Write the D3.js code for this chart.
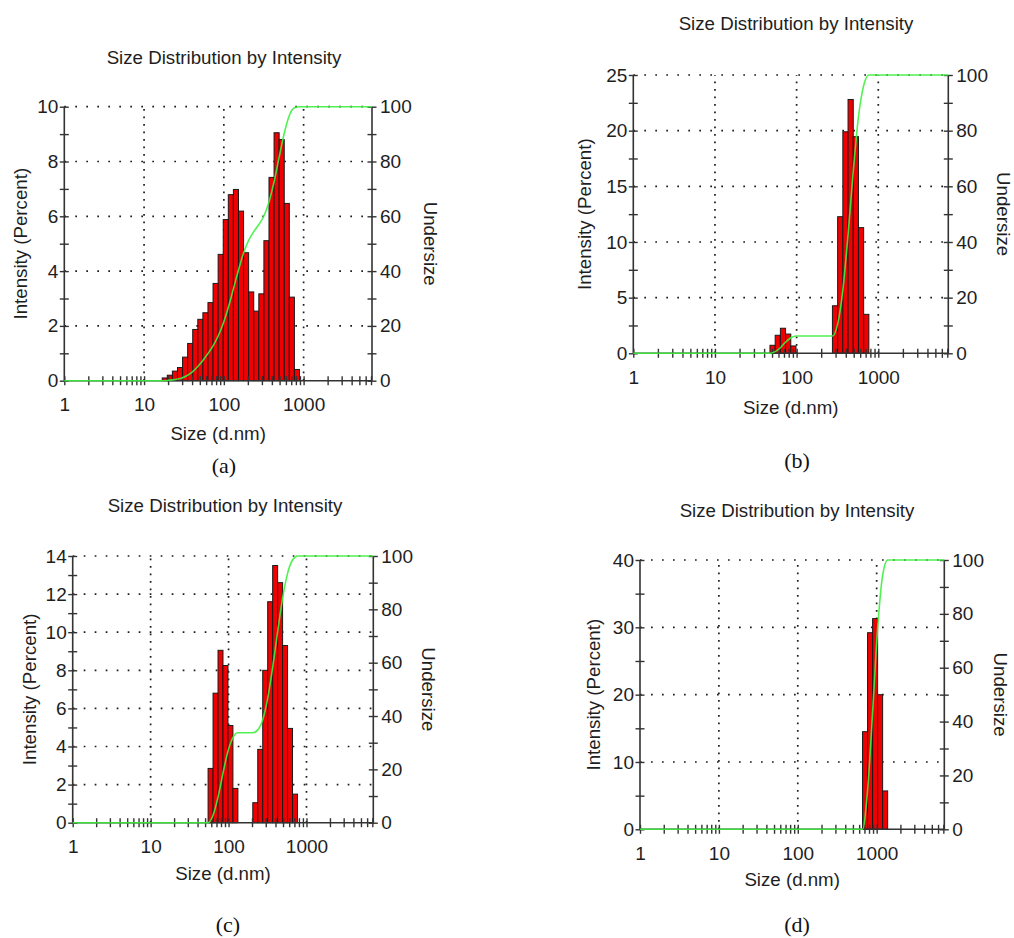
<!DOCTYPE html>
<html>
<head>
<meta charset="utf-8">
<script src="https://cdn.jsdelivr.net/npm/d3@7"></script>
<style>
  html, body { margin: 0; padding: 0; background: #fff; }
  svg { display: block; }
</style>
</head>
<body>
<svg id="fig" width="1014" height="938"></svg>
<script>
// ---- Size classes (d.nm) and intensity / undersize readings per sample ----
const sizesA = [18.17, 21.04, 24.36, 28.21, 32.67, 37.84, 43.82, 50.75, 58.77, 68.06, 78.82, 91.28, 105.7, 122.4, 141.8, 164.2, 190.1, 220.2, 255.0, 295.3, 342.0, 396.1, 458.7, 531.2, 615.1, 712.4, 825.0];
const intensityA = [0.1, 0.2, 0.35, 0.48, 0.86, 1.36, 1.87, 2.24, 2.48, 2.85, 3.55, 4.61, 5.88, 6.79, 6.98, 6.19, 4.67, 3.24, 2.54, 3.17, 5.11, 7.42, 9.05, 8.8, 6.47, 3.05, 0.41];
const undersizeA = [0.1, 0.3, 0.6, 1.1, 2.0, 3.3, 5.2, 7.4, 9.9, 12.7, 16.3, 20.9, 26.7, 33.5, 40.4, 46.6, 51.2, 54.4, 57.0, 60.1, 65.2, 72.6, 81.6, 90.3, 96.8, 99.6, 100];

const sizesB = [50.75, 58.77, 68.06, 78.82, 91.28, 105.7, 122.4, 141.8, 164.2, 190.1, 220.2, 255.0, 295.3, 342.0, 396.1, 458.7, 531.2, 615.1, 712.4];
const intensityB = [0.72, 1.62, 2.25, 1.73, 0.66, 0, 0, 0, 0, 0, 0, 0, 4.27, 12.27, 19.9, 22.8, 19.46, 11.29, 3.5];
const undersizeB = [0.6, 2.0, 4.0, 5.6, 6.2, 6.2, 6.2, 6.2, 6.2, 6.2, 6.2, 6.2, 10.5, 22.7, 42.6, 65.4, 84.9, 96.2, 100];

const sizesC = [58.77, 68.06, 78.82, 91.28, 105.7, 122.4, 141.8, 164.2, 190.1, 220.2, 255.0, 295.3, 342.0, 396.1, 458.7, 531.2, 615.1, 712.4];
const intensityC = [2.85, 6.8, 9.05, 8.25, 5.1, 1.8, 0, 0, 0, 1.05, 3.85, 8.0, 11.6, 13.5, 12.6, 9.3, 4.95, 1.5];
const undersizeC = [2.8, 9.6, 18.6, 26.8, 31.9, 33.7, 33.7, 33.7, 33.7, 34.8, 38.6, 46.6, 58.2, 71.6, 84.2, 93.5, 98.5, 100];

const sizesD = [712.4, 825.0, 955.4, 1106, 1281];
const intensityD = [14.5, 29.2, 31.3, 20.0, 5.7];
const undersizeD = [14.4, 43.4, 74.5, 94.3, 100];

// ---- Axis ticks ----
const intensityTicksA = [0, 2, 4, 6, 8, 10];
const intensityMinorA = [1, 3, 5, 7, 9];
const intensityTicksB = [0, 5, 10, 15, 20, 25];
const intensityMinorB = [2.5, 7.5, 12.5, 17.5, 22.5];
const intensityTicksC = [0, 2, 4, 6, 8, 10, 12, 14];
const intensityMinorC = [1, 3, 5, 7, 9, 11, 13];
const intensityTicksD = [0, 10, 20, 30, 40];
const intensityMinorD = [5, 15, 25, 35];
const undersizeTicks = [0, 20, 40, 60, 80, 100];
const undersizeMinor = [10, 30, 50, 70, 90];
const sizeTicks = [1, 10, 100, 1000];
const sizeMinor = [2, 3, 4, 5, 6, 7, 8, 9, 20, 30, 40, 50, 60, 70, 80, 90,
                   200, 300, 400, 500, 600, 700, 800, 900, 2000, 3000, 4000, 5000, 6000, 7000];
const sizeRange = [1, 7200];

const titleText = "Size Distribution by Intensity";
const xLabelText = "Size (d.nm)";
const yLabelText = "Intensity (Percent)";
const y2LabelText = "Undersize";
const captions = ["(a)", "(b)", "(c)", "(d)"];

// ---- Panel placement on the page ----
const layout = [
  {left: 64.3, right: 372, top: 106.7, bottom: 380.7, titleX: 224, titleY: 64,
   yLabX: 27, y2LabX: 424, xLabY: 439.5, capX: 224, capY: 473},
  {left: 633.3, right: 948.3, top: 75, bottom: 353.3, titleX: 796, titleY: 30,
   yLabX: 591, y2LabX: 997, xLabY: 413.5, capX: 797, capY: 468},
  {left: 72.7, right: 373.3, top: 556, bottom: 822.7, titleX: 225, titleY: 512,
   yLabX: 36, y2LabX: 422, xLabY: 880, capX: 228, capY: 932},
  {left: 640, right: 944.3, top: 560, bottom: 829.3, titleX: 797, titleY: 517,
   yLabX: 600, y2LabX: 993.5, xLabY: 886, capX: 797, capY: 932}
];

const panels = [
  {sizes: sizesA, intensity: intensityA, undersize: undersizeA, yMax: 10, yTicks: intensityTicksA, yMinor: intensityMinorA},
  {sizes: sizesB, intensity: intensityB, undersize: undersizeB, yMax: 25, yTicks: intensityTicksB, yMinor: intensityMinorB},
  {sizes: sizesC, intensity: intensityC, undersize: undersizeC, yMax: 14, yTicks: intensityTicksC, yMinor: intensityMinorC},
  {sizes: sizesD, intensity: intensityD, undersize: undersizeD, yMax: 40, yTicks: intensityTicksD, yMinor: intensityMinorD}
];

const SANS = "'Liberation Sans', Arial, sans-serif";
const SERIF = "'Liberation Serif', 'Times New Roman', serif";
const INK = "#1e1e1e";
const AXIS = "#333";
const TICK = 4.5;

const svg = d3.select("#fig");

function crossTicks(sel, orient) {
  // ticks straddle the axis line
  sel.selectAll(".tick line").attr("stroke", AXIS).attr("stroke-width", 1.4)
    .each(function () {
      const l = d3.select(this);
      if (orient === "h") { l.attr("x1", -TICK).attr("x2", TICK); }
      else { l.attr("y1", -TICK).attr("y2", TICK); }
    });
  sel.select(".domain").remove();
}

function drawPanel(p, L, i) {
  const g = svg.append("g");
  const x = d3.scaleLog().domain(sizeRange).range([L.left, L.right]);
  const y = d3.scaleLinear().domain([0, p.yMax]).range([L.bottom, L.top]);
  const y2 = d3.scaleLinear().domain([0, 100]).range([L.bottom, L.top]);

  // dotted grid
  g.append("g").selectAll("line").data(p.yTicks.filter(v => v > 0)).join("line")
    .attr("x1", L.left).attr("x2", L.right)
    .attr("y1", d => y(d)).attr("y2", d => y(d))
    .attr("stroke", INK).attr("stroke-width", 1.7)
    .attr("stroke-dasharray", "1.7,9.3");
  g.append("g").selectAll("line").data(sizeTicks.filter(v => v > sizeRange[0])).join("line")
    .attr("x1", d => x(d)).attr("x2", d => x(d))
    .attr("y1", L.bottom).attr("y2", L.top)
    .attr("stroke", INK).attr("stroke-width", 1.7)
    .attr("stroke-dasharray", "1.7,5.8");

  // histogram bars, one per size class
  const half = Math.sqrt(p.sizes[1] / p.sizes[0]);
  const bars = p.sizes.map((s, k) => ({s, v: p.intensity[k]})).filter(d => d.v > 0);
  g.append("g").selectAll("rect").data(bars).join("rect")
    .attr("x", d => x(d.s / half))
    .attr("width", d => x(d.s * half) - x(d.s / half))
    .attr("y", d => y(d.v))
    .attr("height", d => y(0) - y(d.v))
    .attr("fill", "#f00000")
    .attr("stroke", "#1a1a1a").attr("stroke-width", 1);

  // axis lines
  g.append("line").attr("x1", L.left).attr("x2", L.left).attr("y1", L.top).attr("y2", L.bottom)
    .attr("stroke", AXIS).attr("stroke-width", 1.6);
  g.append("line").attr("x1", L.right).attr("x2", L.right).attr("y1", L.top).attr("y2", L.bottom)
    .attr("stroke", AXIS).attr("stroke-width", 1.6);
  g.append("line").attr("x1", L.left).attr("x2", L.right).attr("y1", L.bottom).attr("y2", L.bottom)
    .attr("stroke", AXIS).attr("stroke-width", 1.6);

  // left axis
  const yAll = p.yTicks.concat(p.yMinor);
  const ax = g.append("g").attr("transform", `translate(${L.left},0)`)
    .call(d3.axisLeft(y).tickValues(yAll).tickSizeOuter(0).tickPadding(6)
      .tickFormat(d => p.yTicks.includes(d) ? d3.format("d")(d) : ""));
  crossTicks(ax, "h");
  ax.selectAll("text").attr("x", -6).attr("font-family", SANS).attr("font-size", 19).attr("fill", INK);

  // right axis
  const ar = g.append("g").attr("transform", `translate(${L.right},0)`)
    .call(d3.axisRight(y2).tickValues(undersizeTicks.concat(undersizeMinor)).tickSizeOuter(0)
      .tickFormat(d => undersizeTicks.includes(d) ? d3.format("d")(d) : ""));
  crossTicks(ar, "h");
  ar.selectAll("text").attr("x", 8).attr("font-family", SANS).attr("font-size", 19).attr("fill", INK);

  // bottom axis
  const ab = g.append("g").attr("transform", `translate(0,${L.bottom})`)
    .call(d3.axisBottom(x).tickValues(sizeTicks.concat(sizeMinor)).tickSizeOuter(0)
      .tickFormat(d => sizeTicks.includes(d) ? String(d) : ""));
  crossTicks(ab, "v");
  ab.selectAll("text").attr("y", 17).attr("dy", "0.71em")
    .attr("font-family", SANS).attr("font-size", 19).attr("fill", INK);

  // cumulative undersize curve
  const pts = [[x(sizeRange[0]), y2(0)], [x(p.sizes[0] / half), y2(0)]];
  p.sizes.forEach((s, k) => pts.push([x(s * half), y2(p.undersize[k])]));
  pts.push([x(sizeRange[1]), y2(100)]);
  g.append("path").attr("d", d3.line().curve(d3.curveMonotoneX)(pts))
    .attr("fill", "none").attr("stroke", "#3fef3f").attr("stroke-width", 1.6)
    .attr("stroke-opacity", 0.9);

  // texts
  g.append("text").attr("x", L.titleX).attr("y", L.titleY).attr("text-anchor", "middle")
    .attr("font-family", SANS).attr("font-size", 18.7).attr("fill", INK).text(titleText);
  g.append("text").attr("x", (L.left + L.right) / 2).attr("y", L.xLabY).attr("text-anchor", "middle")
    .attr("font-family", SANS).attr("font-size", 18.7).attr("fill", INK).text(xLabelText);
  const cy = (L.top + L.bottom) / 2;
  g.append("text").attr("transform", `translate(${L.yLabX},${cy}) rotate(-90)`).attr("text-anchor", "middle")
    .attr("font-family", SANS).attr("font-size", 18.7).attr("fill", INK).text(yLabelText);
  g.append("text").attr("transform", `translate(${L.y2LabX},${cy}) rotate(90)`).attr("text-anchor", "middle")
    .attr("font-family", SANS).attr("font-size", 18.7).attr("fill", INK).text(y2LabelText);
  g.append("text").attr("x", L.capX).attr("y", L.capY).attr("text-anchor", "middle")
    .attr("font-family", SERIF).attr("font-size", 22).attr("fill", "#111").text(captions[i]);
}

panels.forEach((p, i) => drawPanel(p, layout[i], i));
</script>
</body>
</html>
